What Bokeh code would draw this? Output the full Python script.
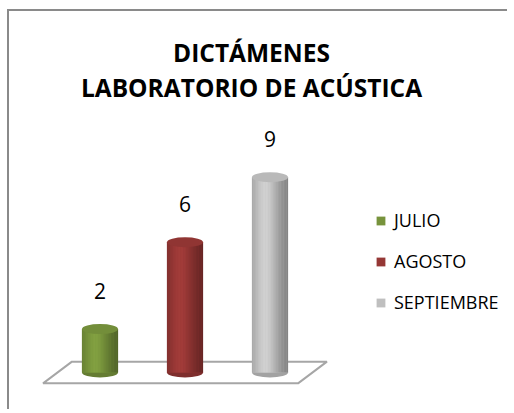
import numpy as np
from bokeh.plotting import figure
from bokeh.models import Range1d, ColumnDataSource, Label, LabelSet, Legend, LegendItem
from bokeh.core.properties import value
from bokeh.embed import file_html
from bokeh.resources import INLINE

# ---- data ----
categories = ["JULIO", "AGOSTO", "SEPTIEMBRE"]
counts = [2, 6, 9]
colors = ["#77933C", "#953735", "#BFBFBF"]
title_lines = ["DICTÁMENES", "LABORATORIO DE ACÚSTICA"]

# ---- layout constants (pixels) ----
W, H = 500, 400
x0_px, x_step = 90.5, 85.0      # canvas x of first category, spacing
y0_px, y_unit = 361.0, 21.7     # canvas y (from top) of value 0, px per unit
cyl_w_px, ell_h_px = 36.0, 10.0

xr = Range1d(-x0_px / x_step, (W - x0_px) / x_step)
yr = Range1d(-(H - y0_px) / y_unit, y0_px / y_unit)

p = figure(width=W, height=H, x_range=xr, y_range=yr, output_backend="svg",
           toolbar_location=None, min_border=0)
p.margin = (9, 0, 0, 7)
p.axis.visible = False
p.xgrid.visible = False
p.ygrid.visible = False
p.outline_line_color = None
p.background_fill_color = "white"
p.border_fill_color = "white"
p.styles = {"border-left": "2px solid #8a8a8a", "border-top": "2px solid #8a8a8a"}

n = len(categories)
xs = np.arange(n, dtype=float)
cw = cyl_w_px / x_step
eh = ell_h_px / y_unit

# floor
dx, dy = 0.17, 0.5
fx = [-0.5 - dx, -0.5 + dx, n - 0.5 + dx, n - 0.5 - dx]
fy = [-dy, dy, dy, -dy]
p.patch(fx, fy, fill_color="white", line_color="#a6a6a6", line_width=2)


def shade(hexc, f):
    r, g, b = int(hexc[1:3], 16), int(hexc[3:5], 16), int(hexc[5:7], 16)
    return "#%02x%02x%02x" % tuple(int(max(0, min(255, c * f))) for c in (r, g, b))


# bottom ellipses
p.ellipse(x=xs, y=[0] * n, width=cw, height=eh,
          fill_color=[shade(c, 0.85) for c in colors], line_color=None)

# base body (legend source)
src = ColumnDataSource(dict(x=xs, top=counts, cat=categories, color=colors))
base = p.vbar(x="x", top="top", bottom=0, width=cw, fill_color="color",
              line_color=None, source=src)

# shaded strips
N = 24
sx, stop, scol = [], [], []
for i in range(n):
    for k in range(N):
        t = (k + 0.5) / N
        f = 0.80 + 0.30 * np.exp(-((t - 0.38) / 0.33) ** 2) - 0.12 * t ** 3
        sx.append(xs[i] - cw / 2 + t * cw)
        stop.append(counts[i])
        scol.append(shade(colors[i], f))
p.vbar(x=sx, top=stop, bottom=0, width=cw / N * 1.15, fill_color=scol, line_color=None)

# top ellipses
p.ellipse(x=xs, y=counts, width=cw, height=eh,
          fill_color=[shade(c, 0.97) for c in colors], line_color=None)

# value labels
lab_src = ColumnDataSource(dict(x=xs, y=counts, t=[str(v) for v in counts]))
p.add_layout(LabelSet(x="x", y="y", text="t", source=lab_src, y_offset=38,
                      text_align="center", text_baseline="middle",
                      text_font=value("Open Sans"), text_font_size="21px",
                      text_color="#000000"))

# title
for line, yb in zip(title_lines, [359, 324]):
    p.add_layout(Label(x=242, y=yb, x_units="screen", y_units="screen", text=line,
                       text_align="center", text_baseline="alphabetic",
                       text_font="Open Sans", text_font_style="bold",
                       text_font_size="24.5px", text_color="#000000"))

# legend
items = [LegendItem(label=categories[i], renderers=[base], index=i) for i in range(n)]
legend = Legend(items=items, location=(366, 97), padding=0, margin=0,
                spacing=17, glyph_width=11, glyph_height=11, label_height=24,
                label_standoff=8, border_line_color=None, background_fill_alpha=0,
                label_text_font="Open Sans", label_text_font_size="18px",
                label_text_color="#000000", label_text_baseline="middle")
p.add_layout(legend)

open("out.html", "w").write(file_html(p, INLINE))
